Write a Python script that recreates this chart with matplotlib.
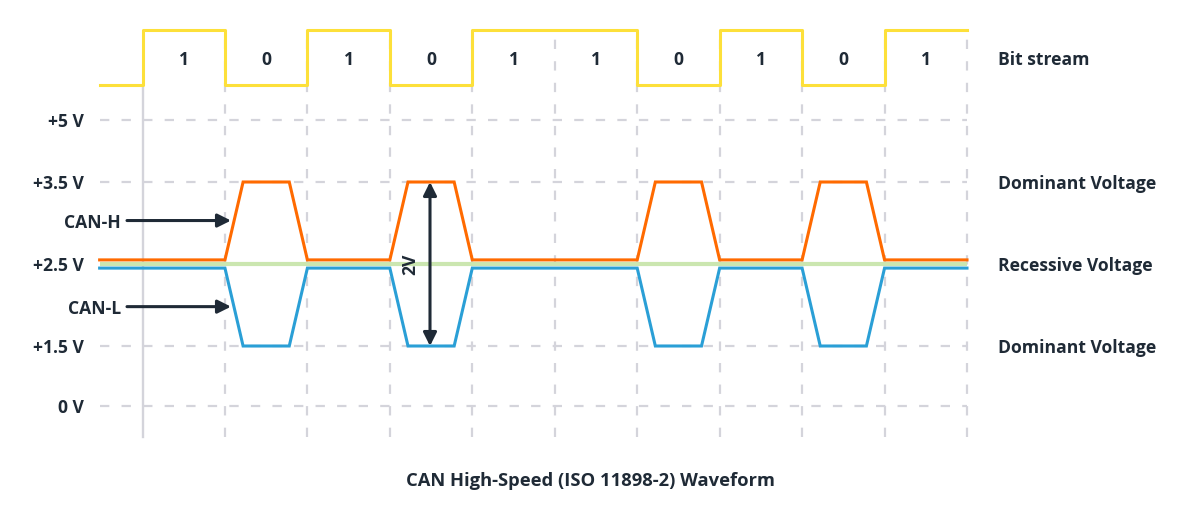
import numpy as np
import matplotlib.pyplot as plt

# bit pattern sent on the bus
bits = [1, 0, 1, 0, 1, 1, 0, 1, 0, 1]
idle_start = -0.52      # idle before first bit (in bit times)
edge = 0.22             # rise / fall time of the bus lines (fraction of a bit)

# bus voltages
recessive_h = 2.55
recessive_l = 2.45
dominant_h = 3.5
dominant_l = 1.5
recessive_ref = 2.5

levels = [0, 1.5, 3.5, 5]
tick_levels = [0, 1.5, 2.5, 3.5, 5]
tick_labels = ['0 V', '+1.5 V', '+2.5 V', '+3.5 V', '+5 V']
right_levels = [3.5, 2.5, 1.5]
right_labels = ['Dominant Voltage', 'Recessive Voltage', 'Dominant Voltage']

TEXT = '#1f2a36'
GRID = '#d4d4db'
YELLOW = '#fde03a'
ORANGE = '#ff6a00'
BLUE = '#2a9fd6'
GREEN = '#cbe6b0'
FS = 12.6
WEIGHT = 'bold'

plt.rcParams['font.family'] = 'Open Sans'

# the voltage axis of the drawing isn't linear, map volts -> pixels above 0 V
v_knots = [-3, 0, 1.5, 2.5, 3.5, 5, 15]
px_knots = [-120, 0, 60, 142, 224, 286, 699]
fwd = lambda v: np.interp(v, v_knots, px_knots)
inv = lambda p: np.interp(p, px_knots, v_knots)

W, H = 1190, 525
L, R, T, B = 90, 985, 20, 450   # axes box in pixels
x0, bw = 142.5, 82.45           # pixel of first bit edge, bit width
zero_px = 406

fig = plt.figure(figsize=(W / 100, H / 100), dpi=100)
ax = fig.add_axes([L / W, (H - B) / H, (R - L) / W, (B - T) / H])
ax.set_yscale('function', functions=(fwd, inv))

def frac(px):
    return (B - px) / (B - T)

# grid
ax.axvline(0, frac(437), frac(85), color=GRID, lw=1.7, zorder=1)
for i in range(1, len(bits) + 1):
    ax.axvline(i, frac(437), frac(30), color=GRID, lw=1.6,
               linestyle=(0, (4.2, 5.5)), zorder=1)
ax.hlines(levels, idle_start, len(bits), color=GRID, lw=1.6,
          linestyle=(0, (4.2, 5.5)), zorder=1)
ax.hlines(recessive_ref, idle_start, len(bits), color=GREEN, lw=3, zorder=2)


def waveform(rec, dom):
    xs, ys = [idle_start], [rec]
    for i, b in enumerate(bits):
        if b == 0:
            xs += [i, i + edge, i + 1 - edge, i + 1]
            ys += [rec, dom, dom, rec]
    xs.append(len(bits))
    ys.append(rec)
    return xs, ys


hx, hy = waveform(recessive_h, dominant_h)
lx, ly = waveform(recessive_l, dominant_l)
ax.plot(hx, hy, color=ORANGE, lw=2.2, solid_joinstyle='miter', zorder=3)
ax.plot(lx, ly, color=BLUE, lw=2.2, solid_joinstyle='miter', zorder=3)

ax.set_xlim((L - x0) / bw, (R - x0) / bw)
ax.set_ylim(inv(zero_px - B), inv(zero_px - T))
ax.set_yticks(tick_levels, tick_labels)
ax.set_xticks([])
ax.tick_params(axis='y', length=0, pad=4.3, labelsize=FS, labelcolor=TEXT)
for lab in ax.get_yticklabels():
    lab.set_fontweight(WEIGHT)
for s in ax.spines.values():
    s.set_visible(False)

# bit stream on its own y axis
ax2 = ax.twinx()
a0, a1 = frac(85), frac(30)
span = 1 / (a1 - a0)
ax2.set_ylim(-a0 * span, (1 - a0) * span)
bx = [idle_start] + list(range(len(bits) + 1))
by = [0] + bits + [bits[-1]]
ax2.plot(bx, by, drawstyle='steps-post', color=YELLOW, lw=2.2, zorder=4)
for i, b in enumerate(bits):
    ax2.text(i + 0.5, 0.5, str(b), ha='center', va='center_baseline', fontsize=FS,
             fontweight=WEIGHT, color=TEXT)
ax2.text((998 - x0) / bw, 0.5, 'Bit stream', ha='left', va='center_baseline',
         fontsize=FS, fontweight=WEIGHT, color=TEXT)
ax2.axis('off')

for lvl, lab in zip(right_levels, right_labels):
    ax.text((998 - x0) / bw, lvl, lab, ha='left', va='center_baseline', fontsize=FS,
            fontweight=WEIGHT, color=TEXT)

# CAN-H / CAN-L pointers
arrow = dict(arrowstyle='-|>', lw=2.2, color=TEXT, mutation_scale=20,
             shrinkA=0, shrinkB=0)
for name, yv in [('CAN-H', 3.03), ('CAN-L', 1.98)]:
    ax.annotate('', xy=((231 - x0) / bw, yv), xytext=((127 - x0) / bw, yv),
                arrowprops=arrow)
    ax.text((121 - x0) / bw, yv, name, ha='right', va='center_baseline', fontsize=FS,
            fontweight=WEIGHT, color=TEXT)

# 2V swing marker
arrow2 = dict(arrowstyle='<|-|>', lw=2.2, color=TEXT, mutation_scale=20,
              shrinkA=0, shrinkB=0)
ax.annotate('', xy=((430 - x0) / bw, dominant_h), xytext=((430 - x0) / bw, dominant_l),
            arrowprops=arrow2, zorder=5)
ax.text((410 - x0) / bw, recessive_ref, '2V', rotation=90, ha='center', va='center',
        fontsize=FS, fontweight=WEIGHT, color=TEXT)

fig.text(590 / W, 1 - 481 / H, 'CAN High-Speed (ISO 11898-2) Waveform',
         ha='center', va='center', fontsize=13.2, fontweight=WEIGHT, color=TEXT)

fig.savefig('out.png', dpi=100, facecolor='white')
